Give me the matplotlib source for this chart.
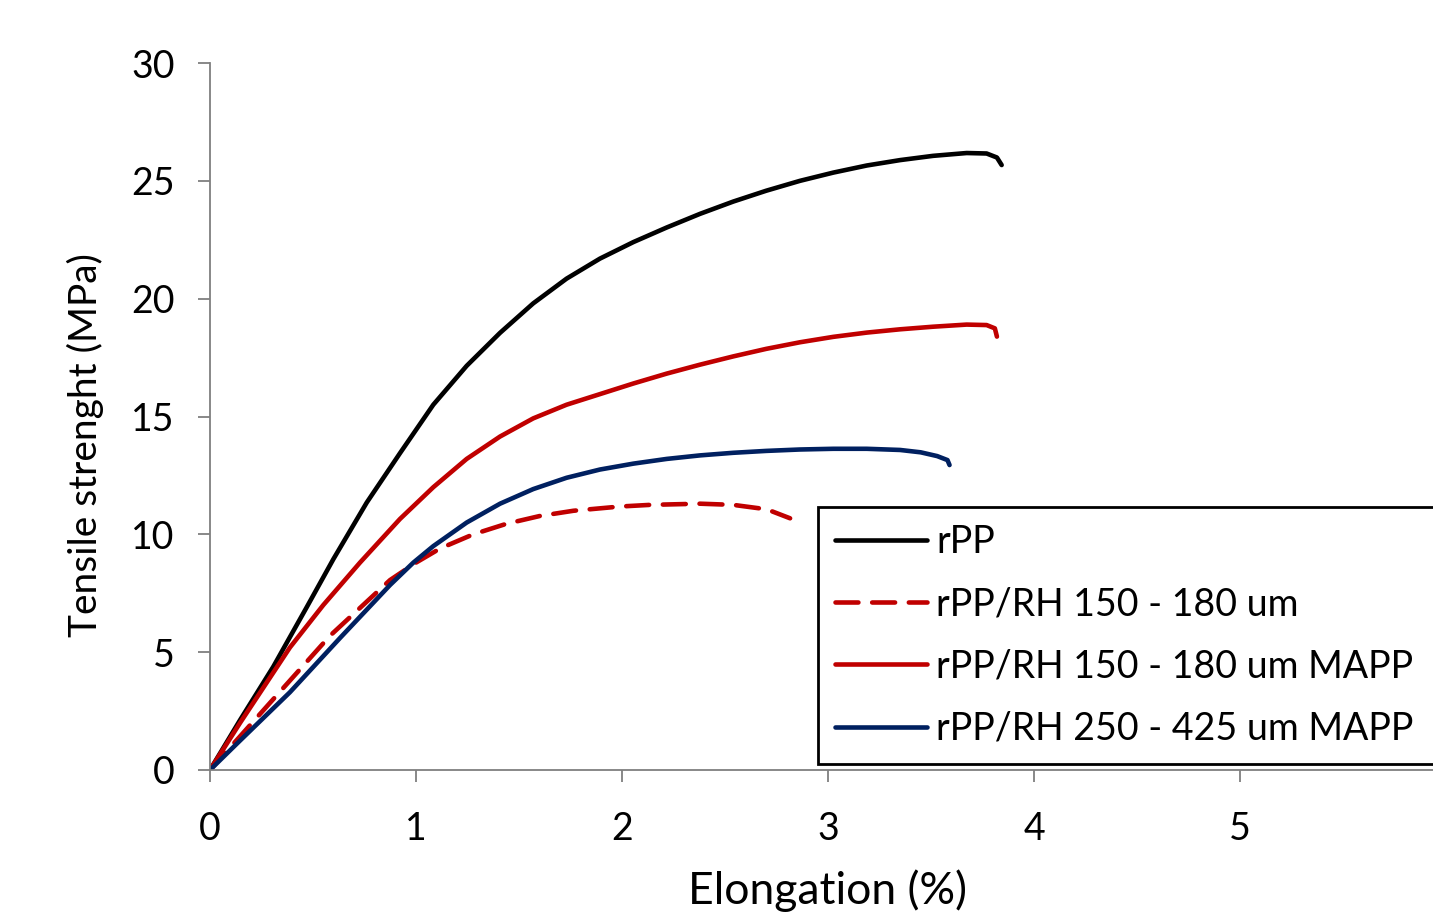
import numpy as np
import matplotlib
matplotlib.use('Agg')
import matplotlib.pyplot as plt

plt.rcParams['font.family'] = ['Lato', 'DejaVu Sans']

# stress-strain curves
rpp_x = [0, 0.146, 0.307, 0.469, 0.599, 0.761, 0.922, 1.084, 1.246, 1.408, 1.569, 1.731, 1.893,
         2.055, 2.217, 2.379, 2.54, 2.70, 2.864, 3.026, 3.188, 3.35, 3.51, 3.673, 3.77, 3.82, 3.843]
rpp_y = [0, 2.12, 4.38, 6.9, 8.95, 11.35, 13.44, 15.5, 17.15, 18.55, 19.8, 20.85, 21.7,
         22.4, 23.02, 23.6, 24.12, 24.58, 25.0, 25.35, 25.65, 25.88, 26.06, 26.18, 26.16, 25.99, 25.67]

red_x = [0, 0.146, 0.388, 0.55, 0.728, 0.922, 1.084, 1.246, 1.408, 1.569, 1.731, 1.893, 2.055,
         2.217, 2.379, 2.54, 2.70, 2.864, 3.026, 3.188, 3.35, 3.51, 3.673, 3.77, 3.81, 3.82]
red_y = [0, 2.0, 5.2, 7.0, 8.8, 10.65, 12.0, 13.2, 14.15, 14.92, 15.5, 15.95, 16.4,
         16.82, 17.2, 17.55, 17.87, 18.15, 18.38, 18.56, 18.7, 18.81, 18.9, 18.88, 18.74, 18.39]

blue_x = [0, 0.146, 0.388, 0.631, 0.874, 0.987, 1.084, 1.246, 1.408, 1.569, 1.731, 1.893, 2.055,
          2.217, 2.379, 2.54, 2.70, 2.864, 3.026, 3.188, 3.35, 3.45, 3.53, 3.58, 3.59]
blue_y = [0, 1.25, 3.3, 5.6, 7.85, 8.8, 9.5, 10.5, 11.3, 11.92, 12.4, 12.75, 13.0,
          13.2, 13.35, 13.46, 13.54, 13.6, 13.63, 13.63, 13.58, 13.48, 13.32, 13.15, 12.94]

dash_x = [0, 0.275, 0.583, 0.874, 1.0, 1.117, 1.278, 1.44, 1.602, 1.764, 1.99, 2.136, 2.379, 2.54,
          2.67, 2.73, 2.816]
dash_y = [0, 2.69, 5.7, 8.06, 8.8, 9.4, 10.0, 10.45, 10.78, 11.0, 11.18, 11.25, 11.3, 11.25,
          11.1, 10.97, 10.68]

labels = ['rPP', 'rPP/RH 150 - 180 um', 'rPP/RH 150 - 180 um MAPP', 'rPP/RH 250 - 425 um MAPP']

fig = plt.figure(figsize=(14.33, 9.16), dpi=100)
ax = fig.add_axes([210 / 1433, 146 / 916, 1 - 210 / 1433, (770 - 63) / 916])

lw = 3.3
ax.plot(rpp_x, rpp_y, color='black', lw=lw, label=labels[0], solid_capstyle='round',
        solid_joinstyle='round')
ax.plot(dash_x, dash_y, color='#C00000', lw=lw, linestyle=(0, (5.0, 3.0)), label=labels[1],
        dash_capstyle='round')
ax.plot(red_x, red_y, color='#C00000', lw=lw, label=labels[2], solid_capstyle='round',
        solid_joinstyle='round')
ax.plot(blue_x, blue_y, color='#002060', lw=lw, label=labels[3], solid_capstyle='round',
        solid_joinstyle='round')

ax.set_xlim(0, (1433 - 210) / 206)
ax.set_ylim(0, 30)
ax.set_xticks([0, 1, 2, 3, 4, 5])
ax.set_yticks([0, 5, 10, 15, 20, 25, 30])

for s in ['top', 'right']:
    ax.spines[s].set_visible(False)
for s in ['left', 'bottom']:
    ax.spines[s].set_color('#7f7f7f')
    ax.spines[s].set_linewidth(1.3)
ax.tick_params(direction='out', length=8.5, width=1.3, color='#7f7f7f',
               labelsize=27, labelcolor='black')
ax.tick_params(axis='y', pad=17)
ax.tick_params(axis='x', pad=21)

ax.set_xlabel('Elongation (%)', fontsize=32)
ax.set_ylabel('Tensile strenght (MPa)', fontsize=28)
ax.xaxis.set_label_coords(0.505, -0.141)
ax.yaxis.set_label_coords(-0.087, 0.46)

leg = ax.legend(loc='upper left', bbox_to_anchor=(818 / 1433, 1 - 507 / 916, 0.5, 0.0),
                bbox_transform=fig.transFigure, mode='expand', borderaxespad=0,
                fontsize=27, handlelength=2.45, handletextpad=0.25, labelspacing=0.7,
                borderpad=0.45, fancybox=False, framealpha=1)
leg.get_frame().set_edgecolor('black')
leg.get_frame().set_linewidth(2)

plt.savefig('out.png', dpi=100)
